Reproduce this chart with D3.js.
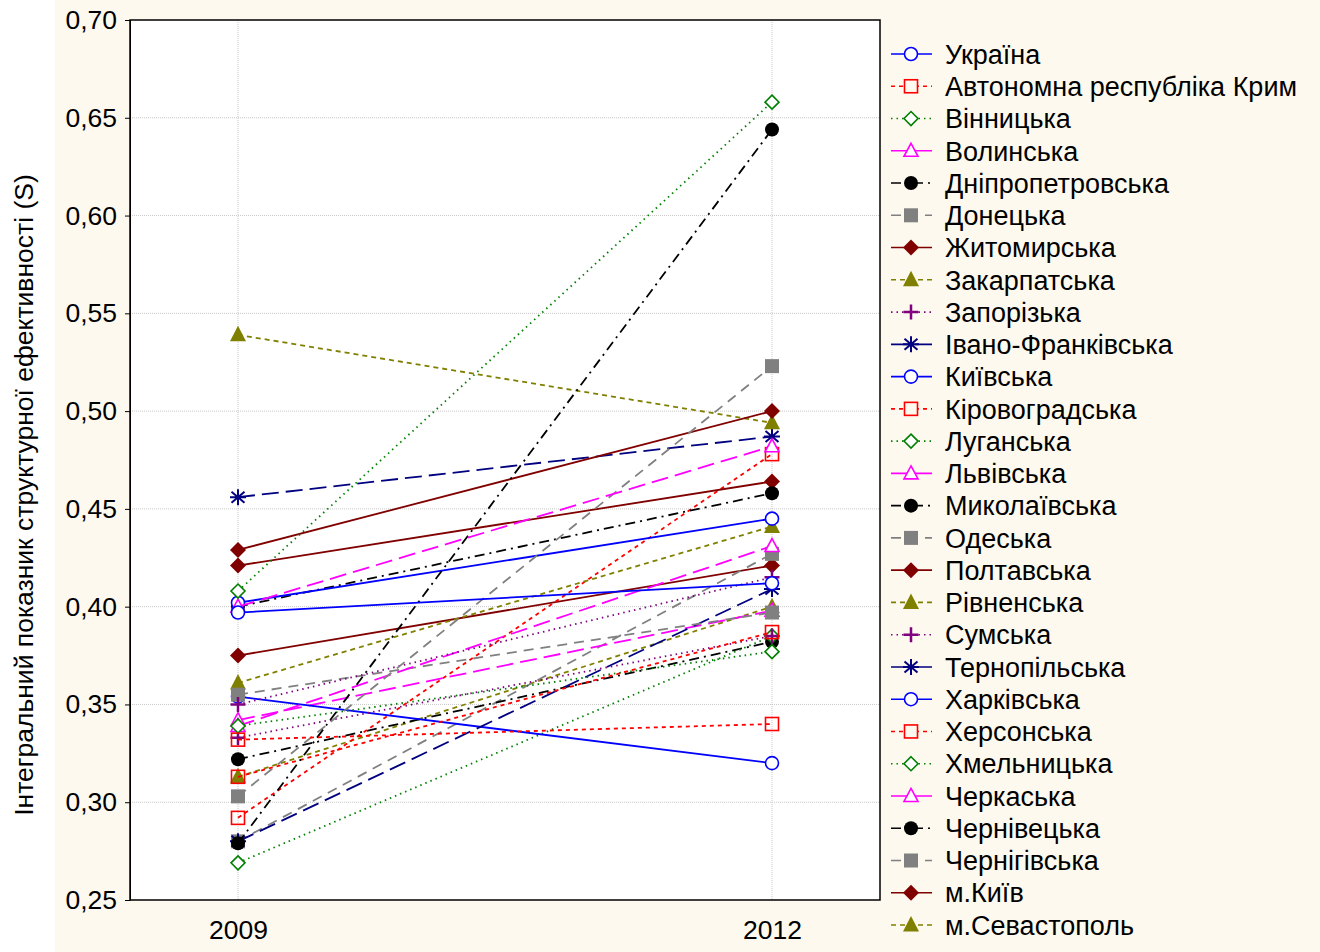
<!DOCTYPE html>
<html lang="uk">
<head>
    <meta charset="UTF-8">
    <title>S</title>
    <script src="https://d3js.org/d3.v7.min.js"></script>
    <style>
        body { margin: 0; background: #fdf9ef; }
        svg text { font-family: "Liberation Sans", Arial, sans-serif; fill: #000; }
    </style>
</head>
<body>
    <svg width="1320" height="952"></svg>
    <script>
        // years on the x axis
        const years = [2009, 2012];
        const yTicks = [0.25, 0.30, 0.35, 0.40, 0.45, 0.50, 0.55, 0.60, 0.65, 0.70];

        // region names, legend order
        const regions = ["Україна", "Автономна республіка Крим", "Вінницька", "Волинська",
            "Дніпропетровська", "Донецька", "Житомирська", "Закарпатська", "Запорізька",
            "Івано-Франківська", "Київська", "Кіровоградська", "Луганська", "Львівська",
            "Миколаївська", "Одеська", "Полтавська", "Рівненська", "Сумська", "Тернопільська",
            "Харківська", "Херсонська", "Хмельницька", "Черкаська", "Чернівецька",
            "Чернігівська", "м.Київ", "м.Севастополь"];

        // values
        const v2009 = [0.397, 0.332, 0.408, 0.400, 0.279, 0.303, 0.429, 0.539, 0.350, 0.456,
            0.402, 0.313, 0.339, 0.339, 0.400, 0.355, 0.421, 0.361, 0.333, 0.280,
            0.354, 0.292, 0.269, 0.342, 0.322, 0.280, 0.375, 0.313];
        const v2012 = [0.412, 0.340, 0.658, 0.482, 0.644, 0.523, 0.500, 0.494, 0.415, 0.487,
            0.445, 0.387, 0.377, 0.431, 0.458, 0.397, 0.464, 0.441, 0.385, 0.409,
            0.320, 0.478, 0.385, 0.398, 0.382, 0.427, 0.421, 0.400];

        // style cycle used by the chart (10 styles repeat)
        const styles = [
            { color: "#0000ff", dash: null, marker: "circle" },
            { color: "#ff0000", dash: "4,4", marker: "square" },
            { color: "#008000", dash: "1.5,4", marker: "diamond" },
            { color: "#ff00ff", dash: "17,7", marker: "triangle" },
            { color: "#000000", dash: "10,5,2,5", marker: "dot" },
            { color: "#808080", dash: "10,7", marker: "fsquare" },
            { color: "#800000", dash: null, marker: "fdiamond" },
            { color: "#808000", dash: "5,4", marker: "ftriangle" },
            { color: "#800080", dash: "1.5,4", marker: "plus" },
            { color: "#000080", dash: "17,7", marker: "star" }
        ];

        const svg = d3.select("svg");
        const pLeft = 130, pRight = 880, pTop = 20, pBottom = 900;

        svg.append("rect").attr("x", 0).attr("y", 0).attr("width", 55).attr("height", 952).attr("fill", "#fff");
        svg.append("rect").attr("x", pLeft).attr("y", pTop).attr("width", pRight - pLeft).attr("height", pBottom - pTop)
            .attr("fill", "#fff");

        const x = d3.scaleLinear().domain([2009 - 108 / 178, 2012 + 108 / 178]).range([pLeft, pRight]);
        const y = d3.scaleLinear().domain([0.25, 0.70]).range([pBottom, pTop]);

        // grid
        svg.append("g").selectAll("line").data(yTicks.slice(1, -1)).join("line")
            .attr("x1", pLeft).attr("x2", pRight).attr("y1", d => y(d)).attr("y2", d => y(d))
            .attr("stroke", "#c8c8c8").attr("stroke-dasharray", "1,1");
        svg.append("g").selectAll("line").data(years).join("line")
            .attr("x1", d => x(d)).attr("x2", d => x(d)).attr("y1", pTop).attr("y2", pBottom)
            .attr("stroke", "#c8c8c8").attr("stroke-dasharray", "1,1");

        // axes
        const yAxis = d3.axisLeft(y).tickValues(yTicks).tickSize(5).tickPadding(8)
            .tickFormat(d => d3.format(".2f")(d).replace(".", ","));
        svg.append("g").attr("transform", `translate(${pLeft},0)`).call(yAxis)
            .call(g => g.selectAll("text").attr("font-size", 26.5).attr("font-family", "Liberation Sans, Arial, sans-serif"));
        const xAxis = d3.axisBottom(x).tickValues(years).tickSize(0).tickPadding(20).tickFormat(d3.format("d"));
        svg.append("g").attr("transform", `translate(0,${pBottom})`).call(xAxis)
            .call(g => g.selectAll("text").attr("font-size", 26.5).attr("font-family", "Liberation Sans, Arial, sans-serif"))
            .call(g => g.select(".domain").remove());
        svg.selectAll(".domain").attr("stroke", "#000");
        svg.selectAll(".tick line").attr("stroke", "#000");

        svg.append("rect").attr("x", pLeft).attr("y", pTop).attr("width", pRight - pLeft).attr("height", pBottom - pTop)
            .attr("fill", "none").attr("stroke", "#000").attr("stroke-width", 1.5);

        svg.append("text").attr("transform", "translate(33,495) rotate(-90)")
            .attr("text-anchor", "middle").attr("font-size", 26.5)
            .text("Інтегральний показник структурної ефективності (S)");

        // sqFill: inside of the open square (hollow on the plot, white in the legend)
        function drawMarker(g, type, color, sqFill) {
            const sw = 1.6;
            if (type === "circle") g.append("circle").attr("r", 6.5).attr("fill", "#fff").attr("stroke", color).attr("stroke-width", sw);
            else if (type === "dot") g.append("circle").attr("r", 7).attr("fill", color);
            else if (type === "square") g.append("rect").attr("x", -6.5).attr("y", -6.5).attr("width", 13).attr("height", 13)
                .attr("fill", sqFill).attr("stroke", color).attr("stroke-width", sw);
            else if (type === "fsquare") g.append("rect").attr("x", -7).attr("y", -7).attr("width", 14).attr("height", 14).attr("fill", color);
            else if (type === "diamond") g.append("path").attr("d", "M0,-7L7,0L0,7L-7,0Z")
                .attr("fill", "#fff").attr("stroke", color).attr("stroke-width", sw);
            else if (type === "fdiamond") g.append("path").attr("d", "M0,-8L8,0L0,8L-8,0Z").attr("fill", color);
            else if (type === "triangle") g.append("path").attr("d", "M0,-7.5L7,5.5L-7,5.5Z")
                .attr("fill", "#fff").attr("stroke", color).attr("stroke-width", sw);
            else if (type === "ftriangle") g.append("path").attr("d", "M0,-9L8,6.5L-8,6.5Z").attr("fill", color);
            else if (type === "plus") g.append("path").attr("d", "M-7.5,0H7.5M0,-7.5V7.5").attr("stroke", color).attr("stroke-width", 2.5);
            else if (type === "star") g.append("path").attr("d", "M0,-8V8M-6.5,-5.5L6.5,5.5M-6.5,5.5L6.5,-5.5M-8,0H8")
                .attr("stroke", color).attr("stroke-width", 2);
        }

        const series = regions.map((name, i) => ({
            name, style: styles[i % 10],
            pts: years.map((yr, j) => ({ yr, v: j === 0 ? v2009[i] : v2012[i] }))
        }));

        // earlier series end up on top, so draw from the last one
        const line = d3.line().x(d => x(d.yr)).y(d => y(d.v));
        const plot = svg.append("g");
        series.slice().reverse().forEach(s => {
            plot.append("path").attr("d", line(s.pts)).attr("fill", "none")
                .attr("stroke", s.style.color).attr("stroke-width", 1.8)
                .attr("stroke-dasharray", s.style.dash);
            s.pts.forEach(p => {
                drawMarker(plot.append("g").attr("transform", `translate(${x(p.yr)},${y(p.v)})`), s.style.marker, s.style.color, "none");
            });
        });

        // legend
        const leg = svg.append("g");
        series.forEach((s, i) => {
            const ly = 54 + i * 32.26;
            const row = leg.append("g").attr("transform", `translate(0,${ly})`);
            row.append("line").attr("x1", 891).attr("x2", 932).attr("y1", 0).attr("y2", 0)
                .attr("stroke", s.style.color).attr("stroke-width", 1.6).attr("stroke-dasharray", s.style.dash);
            drawMarker(row.append("g").attr("transform", "translate(911,0)"), s.style.marker, s.style.color, "#fdf9ef");
            row.append("text").attr("x", 945).attr("y", 0).attr("dy", "0.36em").attr("font-size", 27).text(s.name);
        });
    </script>
</body>
</html>
